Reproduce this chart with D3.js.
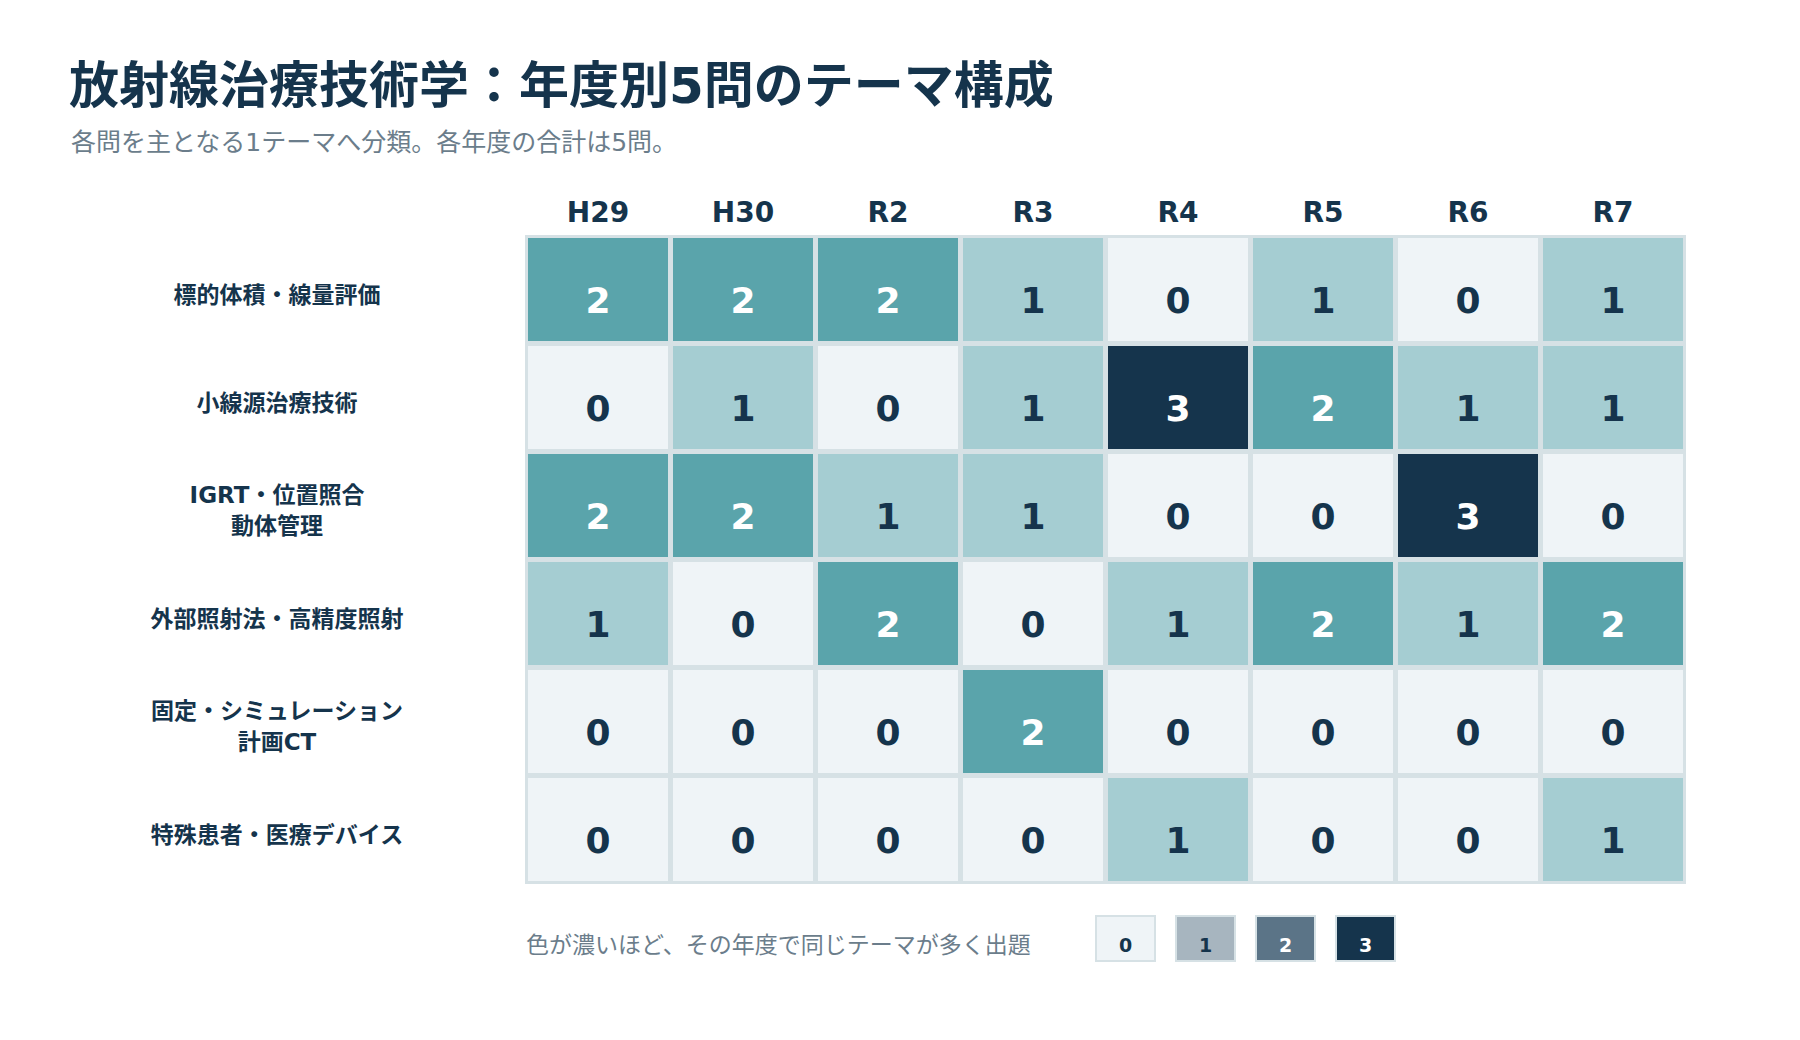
<!DOCTYPE html>
<html>
<head>
<meta charset="utf-8">
<script src="https://cdn.jsdelivr.net/npm/d3@7"></script>
<style>
  body { margin: 0; background: #fff; }
  svg { display: block; font-family: "DejaVu Sans", "Noto Sans CJK JP", sans-serif; }
</style>
</head>
<body>
<svg id="chart" width="1800" height="1040"></svg>
<script>
// données
var years = ['H29', 'H30', 'R2', 'R3', 'R4', 'R5', 'R6', 'R7'];
var themes = [
  ['標的体積・線量評価'],
  ['小線源治療技術'],
  ['IGRT・位置照合', '動体管理'],
  ['外部照射法・高精度照射'],
  ['固定・シミュレーション', '計画CT'],
  ['特殊患者・医療デバイス']
];
var counts = [
  [2, 2, 2, 1, 0, 1, 0, 1],
  [0, 1, 0, 1, 3, 2, 1, 1],
  [2, 2, 1, 1, 0, 0, 3, 0],
  [1, 0, 2, 0, 1, 2, 1, 2],
  [0, 0, 0, 2, 0, 0, 0, 0],
  [0, 0, 0, 0, 1, 0, 0, 1]
];
var legendLevels = [0, 1, 2, 3];

var navy = '#15344c';
var gridColor = '#d6e1e5';

var svg = d3.select('#chart');

// titre
svg.append('text')
  .attr('x', 69).attr('y', 103)
  .attr('font-size', 50).attr('font-weight', 'bold')
  .attr('fill', navy)
  .text('放射線治療技術学：年度別5問のテーマ構成');

svg.append('text')
  .attr('x', 71).attr('y', 151)
  .attr('font-size', 25)
  .attr('fill', '#6b7d8b')
  .text('各問を主となる1テーマへ分類。各年度の合計は5問。');

// échelles
var x = d3.scaleBand().domain(years).range([525.5, 1685.5]);
var y = d3.scaleBand().domain(d3.range(themes.length)).range([235.5, 883.5]);
var color = d3.scaleOrdinal().domain([0, 1, 2, 3])
  .range(['#eff4f7', '#a5cdd2', '#5aa4ab', '#15344c']);
var legendColor = d3.scaleOrdinal().domain([0, 1, 2, 3])
  .range(['#eff4f7', '#a7b5bf', '#5b7487', '#15344c']);

// fond de grille
svg.append('rect')
  .attr('x', 525).attr('y', 235)
  .attr('width', 1161).attr('height', 649)
  .attr('fill', gridColor);

// entêtes des colonnes
svg.append('g').selectAll('text').data(years).enter()
  .append('text')
  .attr('x', function(d) { return x(d) + x.bandwidth() / 2; })
  .attr('y', 222)
  .attr('text-anchor', 'middle')
  .attr('font-size', 28).attr('font-weight', 'bold')
  .attr('fill', navy)
  .text(function(d) { return d; });

// étiquettes des lignes
var rowLabels = svg.append('g').selectAll('text').data(themes).enter()
  .append('text')
  .attr('text-anchor', 'middle')
  .attr('font-size', 23).attr('font-weight', 'bold')
  .attr('fill', navy);

rowLabels.each(function(lines, i) {
  var cy = y(i) + y.bandwidth() / 2;
  var t = d3.select(this);
  lines.forEach(function(line, j) {
    var off = 13 + (j - (lines.length - 1) / 2) * 31;
    t.append('tspan')
      .attr('x', 277)
      .attr('y', cy + off)
      .text(line);
  });
});

// cellules
var cells = [];
counts.forEach(function(row, i) {
  row.forEach(function(v, j) {
    cells.push({ row: i, year: years[j], value: v });
  });
});

var cell = svg.append('g').selectAll('g').data(cells).enter().append('g');

cell.append('rect')
  .attr('x', function(d) { return x(d.year) + 2.5; })
  .attr('y', function(d) { return y(d.row) + 2.5; })
  .attr('width', x.bandwidth() - 5)
  .attr('height', y.bandwidth() - 5)
  .attr('fill', function(d) { return color(d.value); });

cell.append('text')
  .attr('x', function(d) { return x(d.year) + x.bandwidth() / 2; })
  .attr('y', function(d) { return y(d.row) + y.bandwidth() / 2 + 23.5; })
  .attr('text-anchor', 'middle')
  .attr('font-size', 36).attr('font-weight', 'bold')
  .attr('fill', function(d) { return d.value >= 2 ? '#ffffff' : navy; })
  .text(function(d) { return d.value; });

// légende
svg.append('text')
  .attr('x', 526).attr('y', 953)
  .attr('font-size', 23)
  .attr('fill', '#6b7d8b')
  .text('色が濃いほど、その年度で同じテーマが多く出題');

var lx = d3.scaleLinear().domain([0, 3]).range([1096, 1336]);

var leg = svg.append('g').selectAll('g').data(legendLevels).enter().append('g');

leg.append('rect')
  .attr('x', function(d) { return lx(d); })
  .attr('y', 916)
  .attr('width', 59).attr('height', 45)
  .attr('fill', function(d) { return legendColor(d); })
  .attr('stroke', gridColor).attr('stroke-width', 2);

leg.append('text')
  .attr('x', function(d) { return lx(d) + 29.5; })
  .attr('y', 952)
  .attr('text-anchor', 'middle')
  .attr('font-size', 19).attr('font-weight', 'bold')
  .attr('fill', function(d) { return d >= 2 ? '#ffffff' : navy; })
  .text(function(d) { return d; });
</script>
</body>
</html>
